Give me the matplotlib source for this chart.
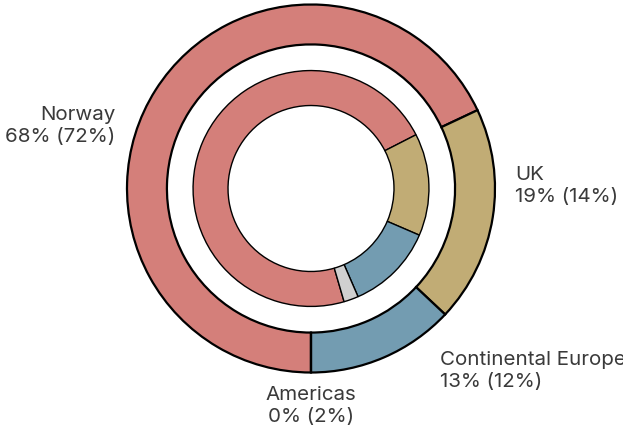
import matplotlib.pyplot as plt

plt.rcParams['font.family'] = ['Inter', 'DejaVu Sans']

# data
regions = ["Norway", "UK", "Continental Europe", "Americas"]
outer_share = [68, 19, 13, 0]
inner_share = [72, 14, 12, 2]
colors = ['#d47f7a', '#c1ac75', '#739cb1', '#d0d0d0']

fig = plt.figure(figsize=(6.23, 4.29), dpi=100)
ax = fig.add_axes([0, 0, 1, 1])

# outer ring
ax.pie(outer_share, colors=colors, radius=1.0, startangle=270, counterclock=False,
       wedgeprops=dict(width=0.217, edgecolor='black', linewidth=1.6))
# inner ring
ax.pie(inner_share, colors=colors, radius=0.641, startangle=286.3, counterclock=False,
       wedgeprops=dict(width=0.19, edgecolor='black', linewidth=1.0))

# labels: outer% (inner%)
txt = dict(fontsize=14.8, color='#3a3a3a', linespacing=1.3, va='center')
lab = [f"{r}\n{o}% ({i}%)" for r, o, i in zip(regions, outer_share, inner_share)]
ax.text(-1.065, 0.34, lab[0], ha='right', multialignment='right', **txt)
ax.text(1.109, 0.014, lab[1], ha='left', **txt)
ax.text(0.701, -0.99, lab[2], ha='left', **txt)
ax.text(0.0, -1.18, lab[3], ha='center', multialignment='center', **txt)

ax.set_aspect('auto')
ax.set_xlim(-311 / 184, (623 - 311) / 184)
ax.set_ylim(-240.5 / 184, 188.5 / 184)
ax.axis('off')

fig.savefig('out.png', dpi=100)
